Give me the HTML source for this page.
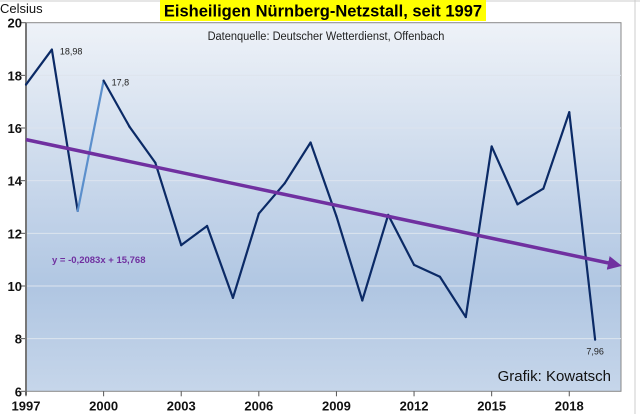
<!DOCTYPE html>
<html><head><meta charset="utf-8"><style>
html,body{margin:0;padding:0;background:#fff;}
svg{display:block;font-family:"Liberation Sans",sans-serif;}
</style></head><body>
<svg width="640" height="414" viewBox="0 0 640 414">
<defs>
<linearGradient id="bg" x1="0" y1="0" x2="0" y2="1">
<stop offset="0" stop-color="#eef2f8"/>
<stop offset="0.72" stop-color="#b0c6e2"/>
<stop offset="1" stop-color="#c6d6ea"/>
</linearGradient>
<marker id="arr" markerWidth="4" markerHeight="4" refX="2" refY="2" orient="auto" markerUnits="strokeWidth"><path d="M0,0 L4,2 L0,4 z" fill="#7030a0"/></marker>
</defs>
<rect x="0" y="0" width="640" height="414" fill="#fff"/>
<line x1="0" y1="1" x2="640" y2="1" stroke="#ccc"/>
<line x1="635" y1="0" x2="635" y2="414" stroke="#ccc"/>
<rect x="26" y="22.7" width="595" height="368.6" fill="url(#bg)" stroke="#888"/>
<g id="grid"></g>
<g id="axes"></g>
<g id="series"></g>
<rect x="160" y="0" width="326" height="21" fill="#ffff00"/>
<text x="323" y="16.5" text-anchor="middle" font-size="16.5" font-weight="bold">Eisheiligen Nürnberg-Netzstall, seit 1997</text>
<text x="326" y="40" text-anchor="middle" font-size="12" fill="#222" transform="translate(326 0) scale(0.92 1) translate(-326 0)">Datenquelle: Deutscher Wetterdienst, Offenbach</text>
<text x="0" y="13" font-size="13" fill="#111">Celsius</text>
<text x="52" y="263" font-size="9.5" font-weight="bold" fill="#7030a0">y = -0,2083x + 15,768</text>
<text x="611" y="381" text-anchor="end" font-size="15" fill="#111">Grafik: Kowatsch</text>
</svg>
<script>
const years=[1997,1998,1999,2000,2001,2002,2003,2004,2005,2006,2007,2008,2009,2010,2011,2012,2013,2014,2015,2016,2017,2018,2019];
const temps=[17.65,18.98,12.85,17.8,16.05,14.68,11.55,12.28,9.55,12.75,13.9,15.45,12.65,9.45,12.7,10.8,10.35,8.82,15.3,13.1,13.7,16.6,7.96];
const yTicks=[6,8,10,12,14,16,18,20];
const xTicks=[1997,2000,2003,2006,2009,2012,2015,2018];
const trendSlope=-0.2083, trendIntercept=15.768;
const labelIdx=[1,3,22];
const labelText=["18,98","17,8","7,96"];
const NS="http://www.w3.org/2000/svg";
const X0=26,X1=621,Y0=391.3,Y1=22.7;
const xs=y=>X0+(y-1997)/(2020-1997)*(X1-X0);
const ys=v=>Y0-(v-6)/(20-6)*(Y0-Y1);
function mk(t,a,p){const e=document.createElementNS(NS,t);for(const k in a)e.setAttribute(k,a[k]);p.appendChild(e);return e;}
const grid=document.getElementById('grid'),axes=document.getElementById('axes'),ser=document.getElementById('series');
yTicks.forEach(v=>{
 if(v>6&&v<20){const g=mk('line',{x1:X0,x2:X1,y1:ys(v),y2:ys(v),stroke:'#dde4ee','stroke-width':1},grid);
 
 }
 const t=mk('line',{x1:X0-5,x2:X0,y1:ys(v),y2:ys(v),stroke:'#555'},axes);
 
 
 const l=mk('text',{x:X0-4,y:ys(v)+5,'text-anchor':'end','font-size':13,'font-weight':'bold',fill:'#111'},axes);l.textContent=v;
 
 
});
const ya=mk('line',{x1:X0,x2:X0,y1:Y1,y2:Y0+4,stroke:'#777','stroke-width':2},axes);


xTicks.forEach(v=>{
 const t=mk('line',{x1:xs(v),x2:xs(v),y1:Y0,y2:Y0+5,stroke:'#555'},axes);
 
 
 const l=mk('text',{x:xs(v),y:Y0+19,'text-anchor':'middle','font-size':13,'font-weight':'bold',fill:'#111'},axes);l.textContent=v;
 
 
});
for(let i=0;i<years.length-1;i++){
 const s=mk('line',{x1:xs(years[i]),y1:ys(temps[i]),x2:xs(years[i+1]),y2:ys(temps[i+1]),stroke:(years[i]==1999?'#5b8fcc':'#0b2a66'),'stroke-width':2.2,'stroke-linecap':'round'},ser);
 
 
}
const tx=y=>y-1996;
const tr=mk('line',{x1:xs(1997),y1:ys(trendSlope*tx(1997)+trendIntercept),x2:xs(2020)-6,y2:ys(trendSlope*(tx(2020)-0.25)+trendIntercept),stroke:'#7030a0','stroke-width':3.5,'marker-end':'url(#arr)'},ser);


labelIdx.forEach((i,k)=>{
 const last=i===years.length-1;
 const l=mk('text',{x:last?xs(years[i]):xs(years[i])+8,y:last?ys(temps[i])+15:ys(temps[i])+5,'text-anchor':last?'middle':'start','font-size':9,fill:'#222'},ser);
 l.textContent=labelText[k];
 
 
});
</script>
</body></html>
